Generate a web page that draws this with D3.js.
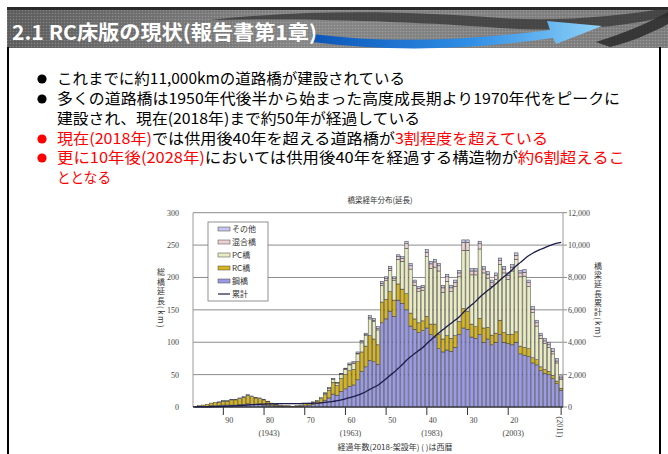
<!DOCTYPE html>
<html>
<head>
<meta charset="utf-8">
<script src="https://cdn.jsdelivr.net/npm/d3@7/dist/d3.min.js"></script>
<style>
  html, body { margin: 0; padding: 0; background: #fff; }
  svg { display: block; }
  .jp { font-family: "Noto Sans CJK JP", "Noto Sans", sans-serif; }
  .num { font-family: "Liberation Serif", "DejaVu Serif", serif; }
  .vert { writing-mode: vertical-rl; }
</style>
</head>
<body>
<svg id="slide" width="668" height="454"></svg>
<script>
// ---- data ----------------------------------------------------------------
const years = d3.range(1921, 2012);            // construction year
const seriesNames = ["鋼橋", "RC橋", "PC橋", "混合橋", "その他"];

const steel = [0,1,1,1,2,2,2,3,3,3,3,4,4,5,4,4,4,3,3,2,1,1,1,1,0,1,1,
  2,3,4,5,7,10,14,20,18,24,28,32,34,
  42,55,62,72,70,66,130,136,148,140,
  165,160,150,125,120,115,118,122,112,108,
  90,85,88,86,92,112,122,120,108,106,
  112,100,105,96,100,112,100,98,96,100,
  82,80,78,68,65,56,52,50,44,36,26];
const rc = [1,1,2,3,4,5,5,6,6,8,8,9,11,13,12,10,9,8,5,3,2,1,1,1,1,1,1,
  3,3,3,4,6,9,12,18,15,20,22,24,24,
  28,30,32,38,35,30,32,30,30,25,
  25,22,25,20,16,15,15,18,16,20,
  22,20,22,20,18,20,30,28,20,18,
  25,22,18,15,14,22,15,14,16,16,
  12,12,12,8,8,6,6,5,5,4,3];
const pc = [0,0,0,0,0,0,0,0,0,0,0,0,0,0,0,0,0,0,0,0,0,0,0,0,0,0,0,
  0,0,1,1,2,2,3,5,4,6,8,9,9,
  12,14,16,26,27,23,26,29,33,30,
  38,43,70,68,52,48,47,92,86,88,
  98,72,84,72,76,69,90,94,76,80,
  107,85,76,75,83,86,92,85,98,112,
  107,110,96,70,52,44,40,37,33,28,14];
const mixed = [0,0,0,0,0,0,0,0,0,0,0,0,0,0,0,0,0,0,0,0,0,0,0,0,0,0,0,
  0,0,0,0,0,0,0,0,0,1,1,1,1,
  1,2,2,2,2,2,3,3,3,3,
  4,4,7,5,5,5,5,7,7,8,
  8,7,7,6,6,6,12,12,6,6,
  8,6,6,6,6,6,6,6,6,6,
  6,6,6,5,5,4,4,4,4,3,2];
const other = [0,0,0,0,0,0,1,1,1,1,1,1,1,1,1,1,1,1,1,1,1,1,0,0,0,0,1,
  0,0,0,0,0,1,1,1,1,1,1,2,2,
  2,2,2,3,3,3,3,3,3,3,
  3,3,4,4,3,3,3,4,4,4,
  4,4,4,4,4,4,4,4,4,4,
  4,4,4,4,4,4,4,4,4,4,
  4,4,4,4,4,4,4,4,4,4,3];

const leftTicks = [0, 50, 100, 150, 200, 250, 300];
const rightTicks = [0, 2000, 4000, 6000, 8000, 10000, 12000];
const elapsedTicks = [90, 80, 70, 60, 50, 40, 30, 20];
const yearNotes = [{e: 80, t: "(1943)"}, {e: 60, t: "(1963)"}, {e: 40, t: "(1983)"}, {e: 20, t: "(2003)"}];
const baseYear = 2018;

const bullets = [
  { y: 84, dot: "#000", w: 348, parts: [["これまでに約11,000kmの道路橋が建設されている", "#000"]] },
  { y: 104, dot: "#000", w: 563, parts: [["多くの道路橋は1950年代後半から始まった高度成長期より1970年代をピークに", "#000"]] },
  { y: 124, dot: null, w: 363, parts: [["建設され、現在(2018年)まで約50年が経過している", "#000"]] },
  { y: 144, dot: "#f00", w: 491, parts: [["現在(2018年)", "#f00"], ["では供用後40年を超える道路橋が", "#000"], ["3割程度を超えている", "#f00"]] },
  { y: 163, dot: "#f00", w: 568, parts: [["更に10年後(2028年)", "#f00"], ["においては供用後40年を経過する構造物が", "#000"], ["約6割超えるこ", "#f00"]] },
  { y: 183, dot: null, w: 54, parts: [["ととなる", "#f00"]] }
];

const colors = { "鋼橋": "#9a9ae6", "RC橋": "#d6b520", "PC橋": "#e9ebc2", "混合橋": "#ecd2d2", "その他": "#c6c6ee" };

// ---- slide frame -----------------------------------------------------------
const svg = d3.select("#slide");
const defs = svg.append("defs");

const hg = defs.append("linearGradient").attr("id", "hdr").attr("x1", 0).attr("x2", 1);
hg.append("stop").attr("offset", 0).attr("stop-color", "#5c5c5c");
hg.append("stop").attr("offset", 0.45).attr("stop-color", "#858585");
hg.append("stop").attr("offset", 1).attr("stop-color", "#7a7a7a");

const dots = defs.append("pattern").attr("id", "dots").attr("width", 3).attr("height", 3)
  .attr("patternUnits", "userSpaceOnUse");
dots.append("circle").attr("cx", 1.5).attr("cy", 1.5).attr("r", 0.8).attr("fill", "rgba(255,255,255,0.22)");

const ag = defs.append("linearGradient").attr("id", "arrow").attr("x1", 0).attr("x2", 1);
ag.append("stop").attr("offset", 0).attr("stop-color", "#0b56b8");
ag.append("stop").attr("offset", 0.55).attr("stop-color", "#2f8fe6");
ag.append("stop").attr("offset", 1).attr("stop-color", "#8fd2f8");

svg.append("rect").attr("width", 668).attr("height", 454).attr("fill", "#fff");

// header band
svg.append("rect").attr("x", 7).attr("y", 8).attr("width", 661).attr("height", 40).attr("fill", "url(#hdr)");
svg.append("rect").attr("x", 7).attr("y", 8).attr("width", 661).attr("height", 40).attr("fill", "url(#dots)");
svg.append("rect").attr("x", 7).attr("y", 7).attr("width", 661).attr("height", 3).attr("fill", "#2a2a2a");

// dark swooshes behind the arrow
svg.append("path")
  .attr("d", "M210,20 C320,8 420,12 500,18 C560,22 620,16 668,8 L668,16 C620,28 560,32 500,28 C420,22 320,18 210,20 Z")
  .attr("fill", "#333").attr("opacity", 0.75);
svg.append("path")
  .attr("d", "M596,42 C628,32 650,22 668,12 L668,24 C650,34 630,42 610,47 Z")
  .attr("fill", "#2a2a2a").attr("opacity", 0.85);
// blue arrow
svg.append("path")
  .attr("d", "M312,34 C390,44 470,40 550,30 L547,21 L602,26 L556,44 L553,38 C470,50 390,52 312,42 Z")
  .attr("fill", "url(#arrow)");

svg.append("text").attr("class", "jp")
  .attr("x", 12).attr("y", 40)
  .attr("font-size", 20).attr("font-weight", 700).attr("fill", "#fff")
  .attr("textLength", 305).attr("lengthAdjust", "spacingAndGlyphs")
  .text("2.1 RC床版の現状(報告書第1章)");

// side rules of the slide body
svg.append("line").attr("x1", 8).attr("x2", 8).attr("y1", 47).attr("y2", 454).attr("stroke", "#000").attr("stroke-width", 2);
svg.append("line").attr("x1", 660).attr("x2", 660).attr("y1", 47).attr("y2", 454).attr("stroke", "#000").attr("stroke-width", 2);

// ---- bullet list -----------------------------------------------------------
bullets.forEach(b => {
  if (b.dot) {
    svg.append("circle").attr("cx", 42).attr("cy", b.y - 5).attr("r", 4.6).attr("fill", b.dot);
  }
  const t = svg.append("text").attr("class", "jp")
    .attr("x", 57).attr("y", b.y).attr("font-size", 15)
    .attr("textLength", b.w).attr("lengthAdjust", "spacingAndGlyphs");
  b.parts.forEach(p => t.append("tspan").attr("fill", p[1]).text(p[0]));
});

// ---- chart -----------------------------------------------------------------
const plot = { left: 193, right: 563, top: 212.7, bottom: 407 };

const x = d3.scaleBand().domain(years).range([plot.left, plot.right]).paddingInner(0.18).paddingOuter(0.05);
const yL = d3.scaleLinear().domain([0, 300]).range([plot.bottom, plot.top]);
const yR = d3.scaleLinear().domain([0, 12000]).range([plot.bottom, plot.top]);

const rows = years.map((yr, i) => ({
  year: yr, "鋼橋": steel[i], "RC橋": rc[i], "PC橋": pc[i], "混合橋": mixed[i], "その他": other[i]
}));
const stacked = d3.stack().keys(seriesNames)(rows);
const totals = rows.map(r => d3.sum(seriesNames, k => r[k]));
const cumulative = Array.from(d3.cumsum(totals));

const g = svg.append("g");

// gridlines
g.selectAll("line.grid").data(leftTicks).join("line")
  .attr("x1", plot.left).attr("x2", plot.right + 4)
  .attr("y1", d => yL(d)).attr("y2", d => yL(d))
  .attr("stroke", "#8c8c8c").attr("stroke-width", 1);
g.append("line").attr("x1", plot.left).attr("x2", plot.left).attr("y1", plot.top).attr("y2", plot.bottom)
  .attr("stroke", "#9a9a9a");
g.append("line").attr("x1", plot.right).attr("x2", plot.right).attr("y1", plot.top).attr("y2", plot.bottom)
  .attr("stroke", "#9a9a9a");

// stacked bars
g.selectAll("g.layer").data(stacked).join("g")
  .attr("fill", d => colors[d.key])
  .selectAll("rect").data(d => d.filter(s => s[1] > s[0])).join("rect")
  .attr("x", d => x(d.data.year))
  .attr("width", x.bandwidth())
  .attr("y", d => yL(d[1]))
  .attr("height", d => yL(d[0]) - yL(d[1]))
  .attr("stroke", "#3a3a3a").attr("stroke-width", 0.5);

// baseline
g.append("line").attr("x1", plot.left).attr("x2", plot.right).attr("y1", plot.bottom).attr("y2", plot.bottom)
  .attr("stroke", "#222").attr("stroke-width", 1.2);

// cumulative line
const line = d3.line().x((d, i) => x(years[i]) + x.bandwidth() / 2).y(d => yR(d)).curve(d3.curveMonotoneX);
g.append("path").datum(cumulative).attr("d", line)
  .attr("fill", "none").attr("stroke", "#1b1b4a").attr("stroke-width", 1.3);

// left / right tick labels
g.selectAll("text.yl").data(leftTicks).join("text").attr("class", "num")
  .attr("x", 179).attr("y", d => yL(d) + 3).attr("text-anchor", "end")
  .attr("font-size", 8).attr("fill", "#444").text(d => d);
g.selectAll("text.yr").data(rightTicks).join("text").attr("class", "num")
  .attr("x", 568).attr("y", d => yR(d) + 3).attr("text-anchor", "start")
  .attr("font-size", 8).attr("fill", "#444").text(d => d3.format(",")(d));

// bottom ticks (elapsed years)
const cx = yr => x(yr) + x.bandwidth() / 2;
elapsedTicks.forEach(e => {
  const px = cx(baseYear - e);
  g.append("line").attr("x1", px).attr("x2", px).attr("y1", plot.bottom).attr("y2", plot.bottom + 8)
    .attr("stroke", "#333");
  g.append("text").attr("class", "num").attr("x", px + 6).attr("y", plot.bottom + 16)
    .attr("text-anchor", "middle").attr("font-size", 8).attr("fill", "#444").text(e);
});
yearNotes.forEach(n => {
  g.append("text").attr("class", "num").attr("x", cx(baseYear - n.e) + 5).attr("y", plot.bottom + 29)
    .attr("text-anchor", "middle").attr("font-size", 8).attr("fill", "#444").text(n.t);
});
const lastX = cx(years[years.length - 1]);
g.append("line").attr("x1", lastX).attr("x2", lastX).attr("y1", plot.bottom).attr("y2", plot.bottom + 8).attr("stroke", "#333");
g.append("text").attr("class", "num").attr("transform", `translate(${lastX - 4},${plot.bottom + 20}) rotate(90)`)
  .attr("text-anchor", "middle").attr("font-size", 8).attr("fill", "#444").text("(2011)");

// titles
g.append("text").attr("class", "jp").attr("x", 380).attr("y", 203).attr("text-anchor", "middle")
  .attr("font-size", 7.5).attr("fill", "#333").text("橋梁経年分布(延長)");
g.append("text").attr("class", "jp").attr("x", 395).attr("y", 450).attr("text-anchor", "middle")
  .attr("font-size", 8).attr("fill", "#333").text("経過年数(2018-架設年) ( )は西暦");

// vertical axis titles
g.append("text").attr("class", "jp vert").attr("x", 161).attr("y", 268)
  .attr("font-size", 8).attr("fill", "#333").attr("letter-spacing", 1.5).text("総橋延長(km)");
g.append("text").attr("class", "jp vert").attr("x", 598).attr("y", 262)
  .attr("font-size", 8).attr("fill", "#333").attr("letter-spacing", 1.2).text("橋梁延長累計(km)");

// legend
const lg = g.append("g");
lg.append("rect").attr("x", 208).attr("y", 222).attr("width", 60).attr("height", 79)
  .attr("fill", "#fff").attr("stroke", "#777").attr("stroke-width", 0.8);
const legendOrder = ["その他", "混合橋", "PC橋", "RC橋", "鋼橋"];
legendOrder.forEach((k, i) => {
  const ly = 229 + i * 13;
  lg.append("rect").attr("x", 218).attr("y", ly - 2).attr("width", 12).attr("height", 4)
    .attr("fill", colors[k]).attr("stroke", "#444").attr("stroke-width", 0.5);
  lg.append("text").attr("class", "jp").attr("x", 232).attr("y", ly + 3)
    .attr("font-size", 8).attr("fill", "#333").text(k);
});
lg.append("line").attr("x1", 218).attr("x2", 230).attr("y1", 294).attr("y2", 294).attr("stroke", "#1b1b4a").attr("stroke-width", 1.2);
lg.append("text").attr("class", "jp").attr("x", 232).attr("y", 297).attr("font-size", 8).attr("fill", "#333").text("累計");
</script>
</body>
</html>
